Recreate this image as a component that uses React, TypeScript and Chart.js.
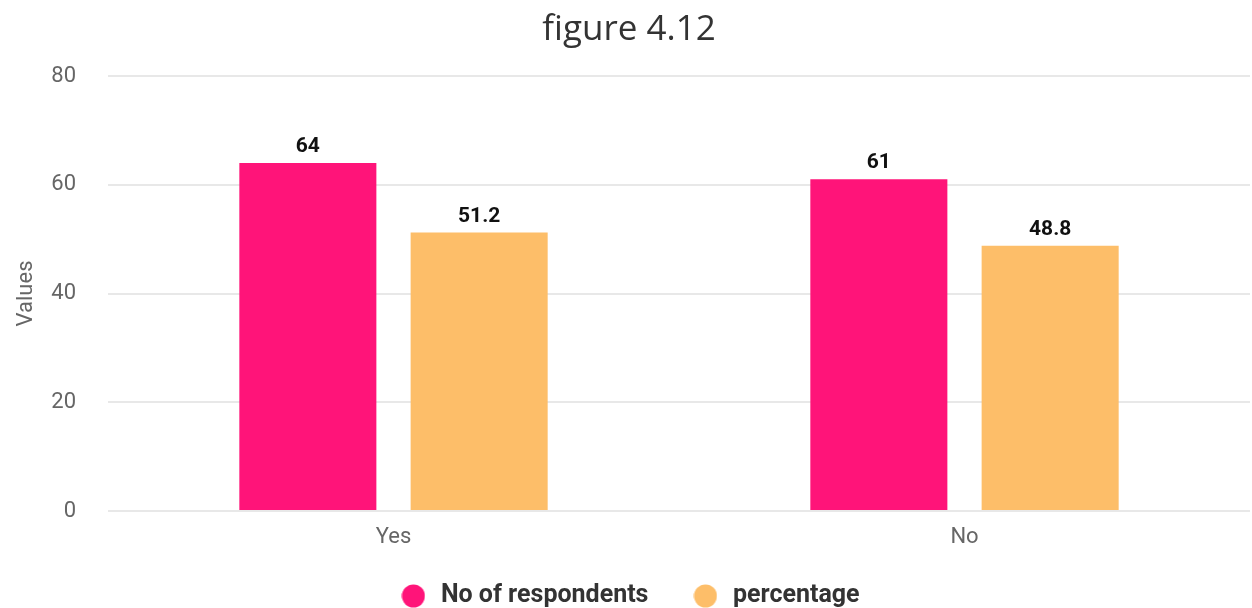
import React, { useEffect, useRef } from "react";
import { Chart, registerables } from "chart.js";

Chart.register(...registerables);

const categories = ["Yes", "No"];
const respondents = [64, 61];
const percentage = [51.2, 48.8];
const yTicks = [0, 20, 40, 60, 80];
const seriesNames = ["No of respondents", "percentage"];
const seriesColors = ["#FF1479", "#FDBE69"];
const titleText = "figure 4.12";
const yAxisTitle = "Values";

function dot(color: string) {
  const c = document.createElement("canvas");
  c.width = 24;
  c.height = 24;
  const g = c.getContext("2d")!;
  g.fillStyle = color;
  g.beginPath();
  g.arc(12, 12, 11.5, 0, Math.PI * 2);
  g.fill();
  return c;
}

const valueLabels = {
  id: "valueLabels",
  afterDatasetsDraw(chart: any) {
    const ctx = chart.ctx;
    ctx.save();
    ctx.font = "bold 21px Roboto";
    ctx.fillStyle = "#111";
    ctx.textAlign = "center";
    ctx.textBaseline = "alphabetic";
    chart.data.datasets.forEach((ds: any, i: number) => {
      const meta = chart.getDatasetMeta(i);
      meta.data.forEach((el: any, j: number) => {
        ctx.fillText(String(ds.data[j]), el.x, el.y - 11);
      });
    });
    ctx.restore();
  },
};

const legendShift = {
  id: "legendShift",
  afterLayout(chart: any) {
    const lg = chart.legend;
    if (lg) {
      lg.top -= 9.5;
      lg.bottom -= 9.5;
    }
  },
};

export default function App() {
  const ref = useRef<HTMLCanvasElement>(null);
  useEffect(() => {
    document.body.style.margin = "0";
    const dots = seriesColors.map(dot);
    const chart = new Chart(ref.current!, {
      type: "bar",
      data: {
        labels: categories,
        datasets: [
          { label: seriesNames[0], data: respondents, backgroundColor: seriesColors[0], categoryPercentage: 0.6, barPercentage: 0.8, pointStyle: dots[0] as any },
          { label: seriesNames[1], data: percentage, backgroundColor: seriesColors[1], categoryPercentage: 0.6, barPercentage: 0.8, pointStyle: dots[1] as any },
        ],
      },
      options: {
        animation: false,
        responsive: false,
        layout: { padding: { left: 8, right: 2, top: 0, bottom: -20 } },
        plugins: {
          title: {
            display: true,
            text: titleText,
            color: "#333",
            font: { family: "Open Sans", size: 35, weight: "normal" },
            padding: { top: 9, bottom: 25 },
          },
          legend: {
            position: "bottom",
            labels: {
              usePointStyle: true,
              pointStyleWidth: 30,
              boxHeight: 16,
              padding: 42,
              color: "#333",
              font: { family: "Roboto", size: 25, weight: "bold" },
            },
          },
          tooltip: { enabled: false },
        },
        scales: {
          x: {
            grid: { display: false, drawTicks: false },
            border: { display: false },
            ticks: { color: "#666", font: { family: "Roboto", size: 22 }, padding: 13 },
            afterFit: (scale: any) => {
              scale.height = 40;
            },
          },
          y: {
            min: 0,
            max: 80,
            afterBuildTicks: (axis: any) => {
              axis.ticks = yTicks.map((v) => ({ value: v }));
            },
            afterFit: (scale: any) => {
              scale.width = 100;
            },
            grid: { color: "#e8e8e8", drawTicks: false, lineWidth: 2 },
            border: { display: false },
            ticks: { color: "#666", font: { family: "Roboto", size: 22 }, padding: 32 },
            title: { display: true, text: yAxisTitle, color: "#666", font: { family: "Roboto", size: 22 }, padding: { top: 5, bottom: 13 } },
          },
        },
      },
      plugins: [valueLabels, legendShift],
    });
    return () => chart.destroy();
  }, []);
  return <canvas ref={ref} width={1252} height={608} style={{ display: "block" }} />;
}
